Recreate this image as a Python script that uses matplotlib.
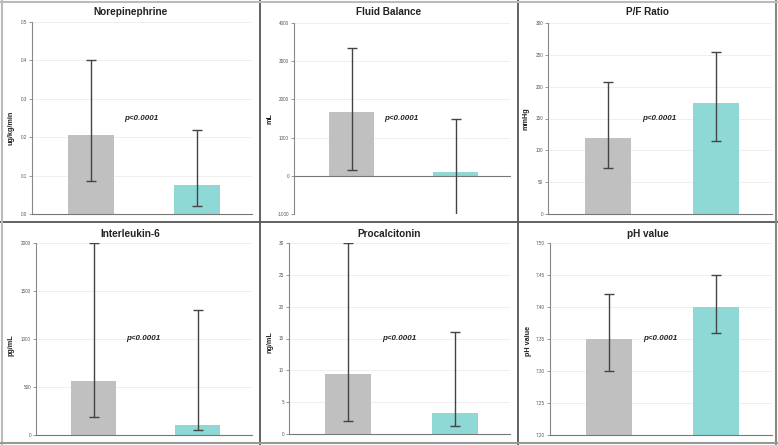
import matplotlib
matplotlib.use("Agg")
import matplotlib.pyplot as plt
from matplotlib.lines import Line2D

plt.rcParams['font.family'] = ['Liberation Sans', 'DejaVu Sans']

titles = ["Norepinephrine", "Fluid Balance", "P/F Ratio",
          "Interleukin-6", "Procalcitonin", "pH value"]
units = ["ug/kg/min", "mL", "mmHg", "pg/mL", "ng/mL", "pH value"]
group_a = [0.207, 1670, 120, 560, 9.4, 7.35]
a_low = [0.085, 150, 72, 190, 2.1, 7.30]
a_high = [0.40, 3350, 208, 2000, 30, 7.42]
group_b = [0.075, 100, 175, 100, 3.3, 7.40]
b_low = [0.022, -1050, 115, 50, 1.2, 7.36]
b_high = [0.22, 1500, 255, 1300, 16, 7.45]
p_label = "p<0.0001"
p_y = [0.25, 1500, 150, 1000, 15, 7.35]
y_ticks = [
    [0.0, 0.1, 0.2, 0.3, 0.4, 0.5],
    [-1000, 0, 1000, 2000, 3000, 4000],
    [0, 50, 100, 150, 200, 250, 300],
    [0, 500, 1000, 1500, 2000],
    [0, 5, 10, 15, 20, 25, 30],
    [7.20, 7.25, 7.30, 7.35, 7.40, 7.45, 7.50],
]
y_ticklabels = [
    ["0.0", "0.1", "0.2", "0.3", "0.4", "0.5"],
    ["-1000", "0", "1000", "2000", "3000", "4000"],
    ["0", "50", "100", "150", "200", "250", "300"],
    ["0", "500", "1000", "1500", "2000"],
    ["0", "5", "10", "15", "20", "25", "30"],
    ["7.20", "7.25", "7.30", "7.35", "7.40", "7.45", "7.50"],
]

W, H = 778, 445
fig = plt.figure(figsize=(W / 100, H / 100), dpi=100)
fig.patch.set_facecolor("white")

# axes boxes in pixels: left, top, right, bottom
boxes = [
    (32, 22, 252, 214),
    (294, 23, 510, 214),
    (548, 23, 772, 214),
    (36, 243, 252, 435),
    (289, 243, 510, 434),
    (550, 243, 772, 435),
]
# y-label anchor: right edge pixel x, vertical fraction
label_pos = [(15, 0.45), (273, 0.5), (530, 0.5),
             (15, 0.47), (273, 0.48), (532, 0.49)]
# panel boxes (left, top, right, bottom) used to center titles
panels = [
    (0, 0, 260, 222), (260, 0, 518, 222), (518, 0, 778, 222),
    (0, 222, 260, 445), (260, 222, 518, 445), (518, 222, 778, 445),
]
gray = "#c0c0c0"
teal = "#8ed9d5"

for i in range(6):
    l, t, r, b = boxes[i]
    ax = fig.add_axes([l / W, 1 - b / H, (r - l) / W, (b - t) / H])
    ymin, ymax = y_ticks[i][0], y_ticks[i][-1]
    base = max(ymin, 0)
    xs = [0, 1]
    vals = [group_a[i], group_b[i]]
    lows = [group_a[i] - a_low[i], group_b[i] - b_low[i]]
    highs = [a_high[i] - group_a[i], b_high[i] - group_b[i]]
    ax.bar(xs, [v - base for v in vals], bottom=base, width=0.43,
           color=[gray, teal], zorder=2)
    ax.errorbar(xs, vals, yerr=[lows, highs], fmt="none", ecolor="#444444",
                elinewidth=1.0, capsize=3.5, capthick=1.0, zorder=3)
    ax.set_xlim(-0.555, 1.52)
    ax.set_ylim(ymin, ymax)
    ax.set_yticks(y_ticks[i])
    ax.set_yticklabels(y_ticklabels[i])
    ax.set_xticks([])
    ax.tick_params(axis="y", length=2, width=0.6, color="#888888",
                   labelsize=3.3, labelcolor="#555555", pad=1.5)
    ax.grid(axis="y", color="#ececec", linewidth=0.6, zorder=0)
    ax.set_axisbelow(True)
    for s in ("top", "right"):
        ax.spines[s].set_visible(False)
    ax.spines["left"].set_color("#888888")
    ax.spines["left"].set_linewidth(0.8)
    ax.spines["bottom"].set_position(("data", base))
    ax.spines["bottom"].set_color("#777777")
    ax.spines["bottom"].set_linewidth(0.8)
    ax.set_ylabel(units[i], fontsize=5.2, fontweight="bold", color="#222222")
    lx, ly = label_pos[i]
    ax.yaxis.set_label_coords((lx - l) / (r - l), ly)
    ax.text(0.48, p_y[i], p_label, fontsize=5.8, fontweight="bold",
            style="italic", ha="center", va="center", color="#222222")
    pl, pt, pr, pb = panels[i]
    fig.text((pl + pr) / 2 / W, 1 - (pt + 12) / H, titles[i], fontsize=7.2,
             fontweight="bold", ha="center", va="center", color="#222222")

# panel borders
def fline(x0, y0, x1, y1, color="#555555", lw=1.3):
    fig.add_artist(Line2D([x0 / W, x1 / W], [1 - y0 / H, 1 - y1 / H],
                          color=color, linewidth=lw))

fline(260, 0, 260, H)
fline(518, 0, 518, H)
fline(0, 222, W, 222)
fline(776, 0, 776, H, color="#888888", lw=1.5)
fline(1.5, 0, 1.5, H, color="#bbbbbb", lw=1.5)
fline(0, 1.5, W, 1.5, color="#bbbbbb", lw=1.5)
fline(0, 443, W, 443, color="#999999", lw=1.5)

fig.savefig("out.png", dpi=100, facecolor="white")
